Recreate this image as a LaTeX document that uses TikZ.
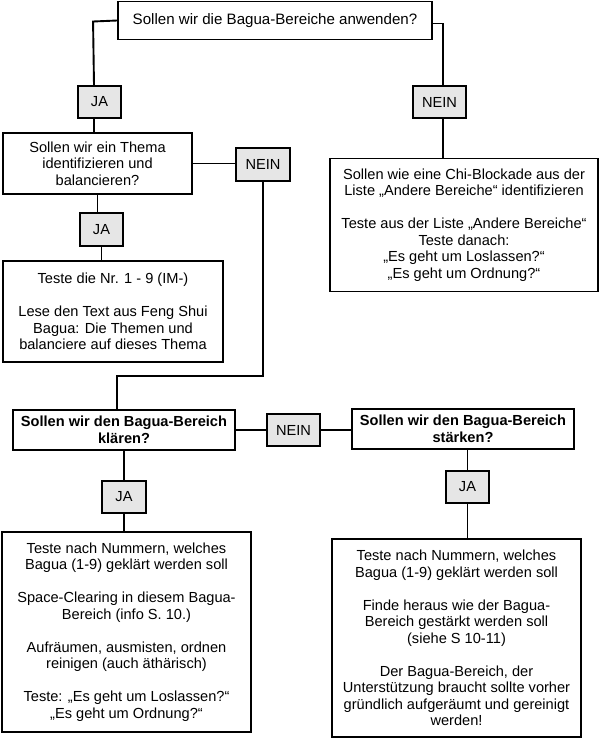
\documentclass[tikz,border=0pt]{standalone}
\usepackage{fontspec}
\setmainfont{Liberation Sans}
\definecolor{answergray}{RGB}{230,230,230}
\newcommand{\flowfont}{\fontsize{14.6}{16.5}\selectfont}

\begin{document}
\begin{tikzpicture}[x=1pt,y=-1pt,line width=1.9pt,
    question/.style={draw,align=center,inner sep=0pt,font=\flowfont},
    answer/.style={draw,fill=answergray,inner sep=0pt,minimum height=32pt,font=\flowfont}]
    \useasboundingbox (0,0) rectangle (599,739);

    % questions
    \node[question,minimum width=314pt,minimum height=38pt,
      font=\fontsize{15.1}{17}\selectfont] (apply) at (275,20.5)
      {Sollen wir die Bagua-Bereiche anwenden?};
    \node[question,minimum width=189pt,minimum height=61pt] (theme) at (97.5,163.5)
      {Sollen wir ein Thema\\identifizieren und\\balancieren?};
    \node[question,minimum width=222pt,minimum height=40pt,font=\flowfont\bfseries] (clear) at (124,430)
      {Sollen wir den Bagua-Bereich\\kl\"aren?};
    \node[question,minimum width=222pt,minimum height=40pt,font=\flowfont\bfseries] (strengthen) at (463,429)
      {Sollen wir den Bagua-Bereich\\st\"arken?};

    % actions
    \node[question,minimum width=220pt,minimum height=101pt] (numtest) at (113,311.5)
      {Teste die Nr. 1 - 9 (IM-)\\[\baselineskip]
       Lese den Text aus Feng Shui\\Bagua: Die Themen und\\balanciere auf dieses Thema};
    \node[question,minimum width=268pt,minimum height=133pt] (chi) at (464,225)
      {Sollen wie eine Chi-Blockade aus der\\Liste „Andere Bereiche“ identifizieren\\[\baselineskip]
       Teste aus der Liste „Andere Bereiche“\\Teste danach:\\„Es geht um Loslassen?“\\„Es geht um Ordnung?“};
    \node[question,minimum width=249pt,minimum height=200pt] (clearact) at (126.5,632)
      {Teste nach Nummern, welches\\Bagua (1-9) gekl\"art werden soll\\[\baselineskip]
       Space-Clearing in diesem Bagua-\\Bereich (info S. 10.)\\[\baselineskip]
       Aufr\"aumen, ausmisten, ordnen\\reinigen (auch \"ath\"arisch)\\[\baselineskip]
       Teste: „Es geht um Loslassen?“\\„Es geht um Ordnung?“};
    \node[question,minimum width=249pt,minimum height=198pt] (strengthact) at (456.5,638)
      {Teste nach Nummern, welches\\Bagua (1-9) gekl\"art werden soll\\[\baselineskip]
       Finde heraus wie der Bagua-\\Bereich gest\"arkt werden soll\\(siehe S 10-11)\\[\baselineskip]
       Der Bagua-Bereich, der\\Unterst\"utzung braucht sollte vorher\\gr\"undlich aufger\"aumt und gereinigt\\werden!};

    % answers
    \node[answer,minimum width=43pt] (ja1) at (99.5,102) {JA};
    \node[answer,minimum width=53pt] (nein1) at (439.5,102) {NEIN};
    \node[answer,minimum width=54pt,minimum height=33pt] (nein2) at (263,164.5) {NEIN};
    \node[answer,minimum width=43pt,minimum height=33pt] (ja2) at (101.5,229.5) {JA};
    \node[answer,minimum width=53pt] (nein3) at (293.5,430) {NEIN};
    \node[answer,minimum width=44pt] (ja3) at (124,497) {JA};
    \node[answer,minimum width=43pt] (ja4) at (467.5,487) {JA};

    % connectors
    \draw (apply.west) -- ++(-24,1) -- ([xshift=-5.5pt]ja1.north);
    \draw ([xshift=-5.5pt]ja1.south) -- ([xshift=-5.5pt]ja1.south |- theme.north);
    \draw ([yshift=-3pt]apply.east) -| ([xshift=3.5pt]nein1.north);
    \draw ([xshift=3.5pt]nein1.south) -- ([xshift=3.5pt]nein1.south |- chi.north);
    \draw (theme.east) -- (theme.east -| nein2.west);
    \draw (theme.south) -- (theme.south |- ja2.north);
    \draw (ja2.south) -- (ja2.south |- numtest.north);
    \draw (nein2.south) -- ++(0,194) -| ([xshift=-7pt]clear.north);
    \draw (clear.east) -- (nein3.west);
    \draw (nein3.east) -- (nein3.east -| strengthen.west);
    \draw (clear.south) -- (ja3.north);
    \draw (ja3.south) -- (ja3.south |- clearact.north);
    \draw (ja4.north |- strengthen.south) -- (ja4.north);
    \draw (ja4.south) -- (ja4.south |- strengthact.north);
  \end{tikzpicture}
\end{document}
